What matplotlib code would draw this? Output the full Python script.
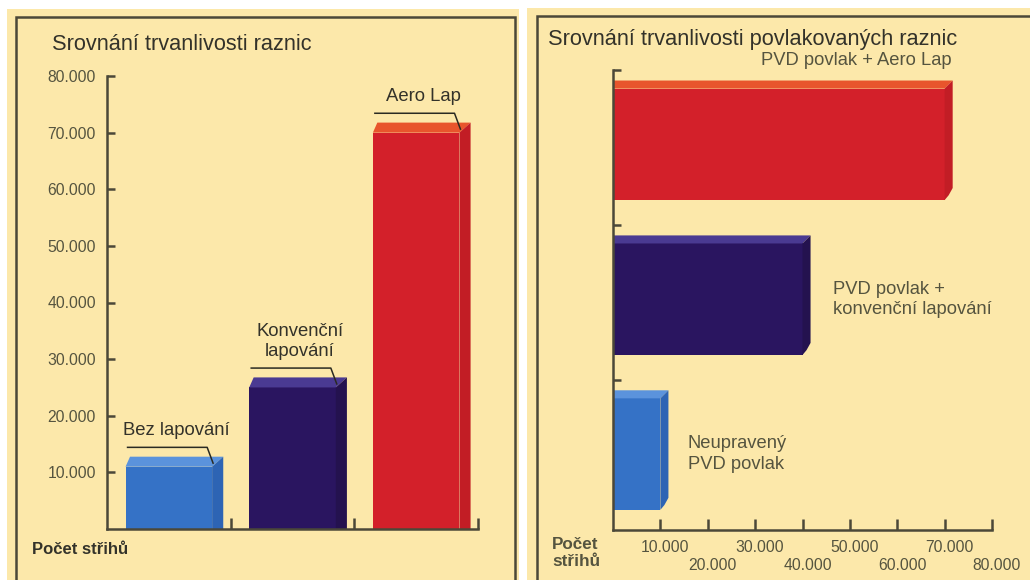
import matplotlib
matplotlib.use("Agg")
import matplotlib.pyplot as plt
from matplotlib.patches import Rectangle, Polygon
from matplotlib.transforms import ScaledTranslation

plt.rcParams["font.family"] = ["Liberation Sans", "DejaVu Sans"]

# --- data -------------------------------------------------------------
levy_kategorie = ["Bez lapování", "Konvenční\nlapování", "Aero Lap"]
levy_hodnoty = [11000, 25000, 70000]

pravy_kategorie = ["Neupravený\nPVD povlak", "PVD povlak +\nkonvenční lapování",
                   "PVD povlak + Aero Lap"]
pravy_hodnoty = [10000, 40000, 70000]

y_ticky = [10000, 20000, 30000, 40000, 50000, 60000, 70000, 80000]
y_popisky = ["10.000", "20.000", "30.000", "40.000",
             "50.000", "60.000", "70.000", "80.000"]

BARVY = ["#3572c6", "#2a1560", "#d3202a"]
VICKA = ["#5b93dc", "#4a3a92", "#e8552c"]
BOKY = ["#2d64b4", "#24124f", "#c21d25"]
KREM = "#fce8aa"
RAM = "#4b4838"
TEXT = "#33322a"
SEDA = "#55543f"

W, H = 1030, 580
fig = plt.figure(figsize=(W / 100, H / 100), dpi=100)
fig.patch.set_facecolor("white")


def px(x0, y0, x1, y1):
    """pixelovy obdelnik (y od shora) -> [left, bottom, width, height]"""
    return [x0 / W, 1 - y1 / H, (x1 - x0) / W, (y1 - y0) / H]


# pozadi panelu
for (x0, y0, x1, y1), (f0, g0, f1) in [((7, 9, 519, 590), (16, 17, 515)),
                                       ((527, 8, 1040, 590), (537, 16, 1040))]:
    fig.patches.append(Rectangle((x0 / W, 1 - y1 / H), (x1 - x0) / W, (y1 - y0) / H,
                                 transform=fig.transFigure, facecolor=KREM,
                                 edgecolor="none", zorder=-3))
    fig.patches.append(Rectangle((f0 / W, 1 - 600 / H), (f1 - f0) / W, (600 - g0) / H,
                                 transform=fig.transFigure, facecolor="none",
                                 edgecolor=RAM, lw=1.8, zorder=-2))


def styl_os(ax):
    ax.set_facecolor("none")
    ax.set_zorder(2)
    for s in ["top", "right"]:
        ax.spines[s].set_visible(False)
    for s in ["left", "bottom"]:
        ax.spines[s].set_color(RAM)
        ax.spines[s].set_linewidth(1.8)
    ax.tick_params(direction="in", color=RAM, width=1.8, labelcolor=SEDA,
                   labelsize=11.3)


# --- levy graf: svisle sloupce -----------------------------------------
ax1 = fig.add_axes(px(107, 76, 478, 529))
styl_os(ax1)
sirka, dx, dy = 0.70, 0.09, 1770
for i, (kat, v) in enumerate(zip(levy_kategorie, levy_hodnoty)):
    l, r = i - sirka / 2, i + sirka / 2
    ax1.add_patch(Rectangle((l, 0), sirka, v, facecolor=BARVY[i], edgecolor="none"))
    ax1.add_patch(Polygon([(l, v), (l + dx * 0.4, v + dy), (r + dx, v + dy), (r, v)],
                          closed=True, facecolor=VICKA[i], edgecolor="none"))
    ax1.add_patch(Polygon([(r, 0), (r + dx, 0), (r + dx, v + dy), (r, v)],
                          closed=True, facecolor=BOKY[i], edgecolor="none"))
    # odkazova cara
    vrch = v + dy + 1650
    ax1.plot([i - 0.34, i + 0.31, i + 0.36], [vrch, vrch, v + 500],
             color="#2a2a22", lw=1.1, solid_capstyle="butt")
    ax1.text(i + 0.06, vrch + 1500, kat, ha="center", va="bottom", fontsize=13.3,
             color=TEXT, linespacing=1.2)

ax1.set_xlim(-0.5, 2.5)
ax1.set_ylim(0, 80000)
ax1.set_yticks(y_ticky, y_popisky)
ax1.set_xticks([0.5, 1.5, 2.5], ["", "", ""])
ax1.tick_params(axis="y", length=6, pad=8)
ax1.tick_params(axis="x", length=8)

fig.text(52 / W, 1 - 45 / H, "Srovnání trvanlivosti raznic", fontsize=15.7,
         color=TEXT, va="center", ha="left")
fig.text(32 / W, 1 - 549 / H, "Počet střihů", fontsize=12, weight="bold",
         color=TEXT, va="center", ha="left")

# --- pravy graf: vodorovne pruhy ---------------------------------------
ax2 = fig.add_axes(px(613, 70, 992, 530))
styl_os(ax2)
vyska, hx, hy = 0.72, 1700, 0.052
for i, (kat, v) in enumerate(zip(pravy_kategorie, pravy_hodnoty)):
    b, t = i - vyska / 2, i + vyska / 2
    ax2.add_patch(Rectangle((0, b), v, vyska, facecolor=BARVY[i], edgecolor="none"))
    ax2.add_patch(Polygon([(0, t), (0, t + hy), (v + hx, t + hy), (v, t)],
                          closed=True, facecolor=VICKA[i], edgecolor="none"))
    ax2.add_patch(Polygon([(v, b), (v + hx * 0.5, b + hy * 0.6), (v + hx, b + hy * 1.5),
                           (v + hx, t + hy), (v, t)],
                          closed=True, facecolor=BOKY[i], edgecolor="none"))

ax2.text(pravy_hodnoty[2] + 1500, 2.54, pravy_kategorie[2], ha="right", va="center",
         fontsize=13.2, color=SEDA)
ax2.text(pravy_hodnoty[1] + 6400, 1.0, pravy_kategorie[1], ha="left", va="center",
         fontsize=13.2, color=SEDA, linespacing=1.25)
ax2.text(pravy_hodnoty[0] + 5800, 0.0, pravy_kategorie[0], ha="left", va="center",
         fontsize=13.2, color=SEDA, linespacing=1.25)

ax2.set_xlim(0, 80000)
ax2.set_ylim(-0.49, 2.48)
ax2.set_yticks([0.48, 1.48, 2.48], ["", "", ""])
ax2.set_xticks(y_ticky, y_popisky)
ax2.tick_params(axis="y", length=6)
ax2.tick_params(axis="x", length=8)
posun = ScaledTranslation(5 / 100, 0, fig.dpi_scale_trans)
for k, tick in enumerate(ax2.xaxis.get_major_ticks()):
    tick.set_pad(7 if k % 2 == 0 else 20)
    tick.label1.set_transform(tick.label1.get_transform() + posun)

fig.text(548 / W, 1 - 40 / H, "Srovnání trvanlivosti povlakovaných raznic",
         fontsize=15.7, color=TEXT, va="center", ha="left")
fig.text(552 / W, 1 - 553 / H, "Počet\nstřihů", fontsize=12.3, weight="bold",
         color=SEDA, va="center", ha="left", linespacing=1.1)

fig.savefig("out.png", dpi=100)
